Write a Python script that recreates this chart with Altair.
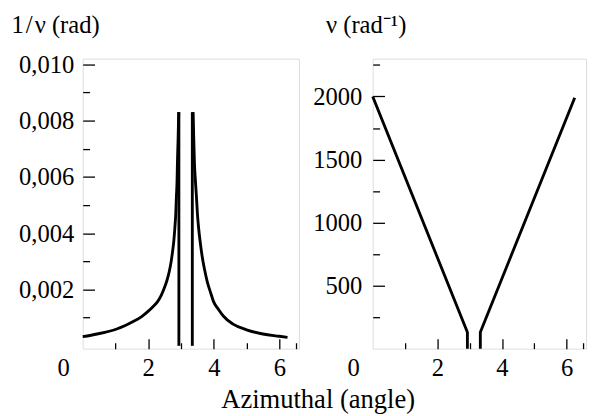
import altair as alt
import pandas as pd

# ---- data ----
# left panel: 1/nu (rad): two hyperbola-like branches and two vertical walls
left_curve_a_theta = [0.0, 0.44, 1.02, 1.30, 1.54, 1.80, 2.01, 2.15, 2.29, 2.40, 2.49, 2.57, 2.64, 2.70,
                      2.74, 2.78, 2.81, 2.84, 2.86, 2.88, 2.89, 2.91, 2.93]
left_curve_a_val = [0.000325, 0.00042, 0.00059, 0.00072, 0.00086, 0.00104, 0.00124, 0.00140, 0.00158,
                    0.00180, 0.00205, 0.00232, 0.00263, 0.00300, 0.00333, 0.00372, 0.00415, 0.00470,
                    0.00531, 0.00590, 0.00648, 0.00730, 0.0083]
left_curve_b_theta = [3.37, 3.39, 3.41, 3.44, 3.47, 3.50, 3.54, 3.59, 3.64, 3.72, 3.80,
                      3.90, 3.99, 4.14, 4.29, 4.59, 5.0, 5.5, 6.0, 6.25]
left_curve_b_val = [0.0083, 0.0073, 0.00648, 0.00585, 0.00531, 0.00470, 0.00415, 0.00365,
                    0.00322, 0.00270, 0.00228, 0.00190, 0.00158, 0.00130, 0.00106, 0.00077, 0.00057,
                    0.00042, 0.00034, 0.00030]
left_wall_a_theta = [2.935, 2.935]
left_wall_a_val = [0.0083, 0.0]
left_wall_b_theta = [3.345, 3.345]
left_wall_b_val = [0.0, 0.0083]

# right panel: nu (rad^-1), two branches
right_branch_a_theta = [0.0, 2.93, 2.93]
right_branch_a_val = [2000, 130, 0]
right_branch_b_theta = [3.33, 3.33, 6.25]
right_branch_b_val = [0, 130, 1990]

x_label_values = [0, 2, 4, 6]
x_tick_values = [1, 2, 3, 4, 5, 6, 6.5]
left_y_label_values = [0.002, 0.004, 0.006, 0.008, 0.010]
left_y_tick_values = [0.001, 0.002, 0.003, 0.004, 0.005, 0.006, 0.007, 0.008, 0.009, 0.010]
right_y_label_values = [500, 1000, 1500, 2000]
right_y_tick_values = [250, 500, 750, 1000, 1250, 1500, 1750, 2000, 2250]


def make_df(series):
    rows = []
    for name, ts, vs in series:
        for i, (t, v) in enumerate(zip(ts, vs)):
            rows.append({"theta": t, "val": v, "branch": name, "seq": i})
    return pd.DataFrame(rows)


df_left_curves = make_df([("a", left_curve_a_theta, left_curve_a_val),
                          ("b", left_curve_b_theta, left_curve_b_val)])
df_left_walls = make_df([("wa", left_wall_a_theta, left_wall_a_val),
                         ("wb", left_wall_b_theta, left_wall_b_val)])
df_right = make_df([("a", right_branch_a_theta, right_branch_a_val),
                    ("b", right_branch_b_theta, right_branch_b_val)])

H = 295
FONT = "Liberation Serif"
FS = 25
LW = 2.9


def panel(dfs, W, ydomain, ylab_vals, ytick_vals, ylab_expr, ytitle, ytitle_x, major_test, lab_pad):
    xs = alt.Scale(domain=[0, 6.6], nice=False, zero=False)
    ys = alt.Scale(domain=ydomain, nice=False, zero=False)
    x_main = alt.X("theta:Q", scale=xs, axis=alt.Axis(
        orient="bottom", values=x_label_values, ticks=False, tickSize=0, domain=False, grid=False,
        labelFont=FONT, labelFontSize=FS, labelColor="black", labelPadding=7, labelFlush=False,
        labelOverlap=False,
        labelOffset={"condition": {"test": "datum.value === 0", "value": -20}, "value": 0},
        format="d", title=None))
    y_main = alt.Y("val:Q", scale=ys, axis=alt.Axis(
        orient="left", values=ylab_vals, ticks=False, tickSize=0, domain=False, grid=False,
        labelFont=FONT, labelFontSize=FS, labelColor="black", labelPadding=lab_pad, labelOverlap=False,
        labelExpr=ylab_expr, labelFlush=False,
        title=ytitle, titleFont=FONT, titleFontSize=FS, titleFontWeight="normal", titleColor="black",
        titleAngle=0, titleAlign="left", titleBaseline="alphabetic", titleX=ytitle_x, titleY=-27))
    layers = []
    for k, (df, interp) in enumerate(dfs):
        enc = dict(detail="branch:N", order="seq:Q")
        if k == 0:
            enc.update(x=x_main, y=y_main)
        else:
            enc.update(x=alt.X("theta:Q", scale=xs, axis=None), y=alt.Y("val:Q", scale=ys, axis=None))
        layers.append(alt.Chart(df).mark_line(color="black", strokeWidth=LW, interpolate=interp).encode(**enc))
    tick_layer = alt.Chart(dfs[0][0]).mark_line(opacity=0).encode(
        x=alt.X("theta:Q", scale=xs, axis=alt.Axis(
            orient="top", offset=-H, values=x_tick_values, labels=False, domain=False, grid=False,
            title=None, tickColor="black", tickWidth=1.3,
            tickSize={"condition": {"test": "datum.value % 2 === 0", "value": 10}, "value": 6})),
        y=alt.Y("val:Q", scale=ys, axis=alt.Axis(
            orient="right", offset=-W, values=ytick_vals, labels=False, domain=False, grid=False,
            title=None, tickColor="black", tickWidth=1.3,
            tickSize={"condition": {"test": major_test, "value": 12}, "value": 7})),
        detail="branch:N",
        order="seq:Q",
    )
    return alt.layer(*layers, tick_layer).resolve_axis(x="independent", y="independent").properties(
        width=W, height=H)


left = panel([(df_left_curves, "monotone"), (df_left_walls, "linear")], 220,
             [-0.0001, 0.0102], left_y_label_values, left_y_tick_values,
             "replace(format(datum.value, '.3f'), '.', ',')", "1\u200a/\u200aν (rad)", -73,
             "round(datum.value * 1000) % 2 === 0", 9)
right = panel([(df_right, "linear")], 217,
              [0, 2300], right_y_label_values, right_y_tick_values,
              "format(datum.value, 'd')", "ν (rad⁻¹)", -48,
              "datum.value % 500 === 0", 11)

chart = alt.hconcat(left, right, spacing=12).properties(
    title=alt.TitleParams("Azimuthal (angle)", orient="bottom", anchor="middle", font=FONT, fontSize=27,
                          fontWeight="normal", color="black", offset=7, dx=20),
    padding={"left": 2, "top": 0, "right": 0, "bottom": 0}
).configure_view(stroke="#333333", strokeWidth=1.6).configure(background="white")

chart.save("out.html", embed_options={"renderer": "svg", "actions": False})
